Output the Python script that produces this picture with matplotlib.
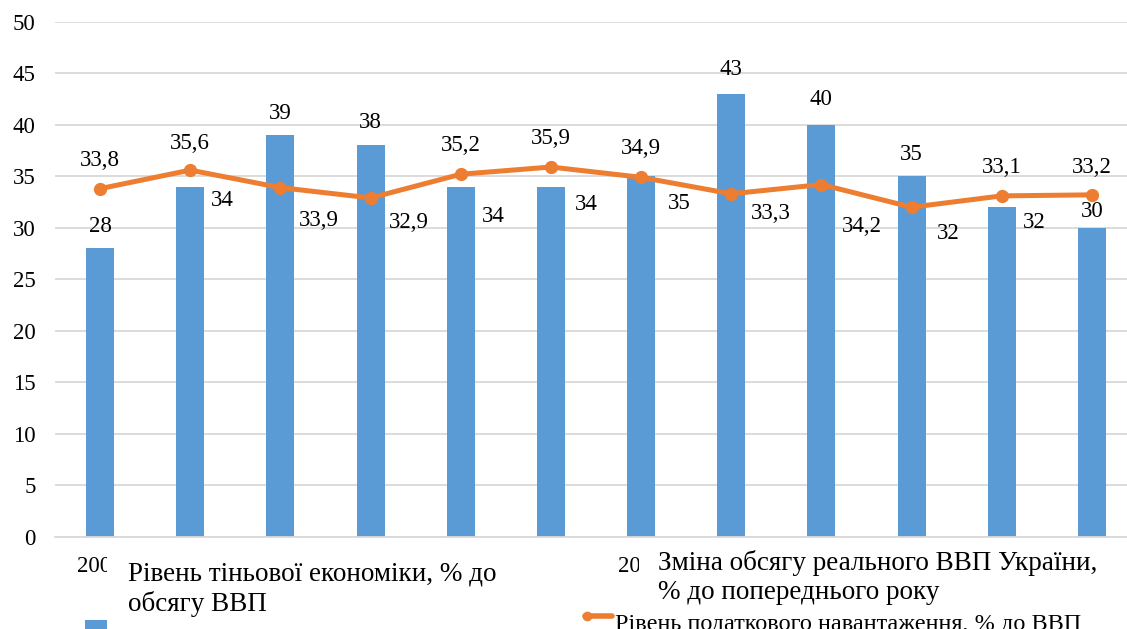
import matplotlib.pyplot as plt
from matplotlib.patches import Rectangle
from matplotlib.lines import Line2D

plt.rcParams['font.family'] = ['Liberation Serif', 'DejaVu Serif']

# Data
years = ['2007', '2008', '2009', '2010', '2011', '2012',
         '2013', '2014', '2015', '2016', '2017', '2018']
shadow = [28, 34, 39, 38, 34, 34, 35, 43, 40, 35, 32, 30]
tax_burden = [33.8, 35.6, 33.9, 32.9, 35.2, 35.9, 34.9, 33.3, 34.2, 32, 33.1, 33.2]
shown_years = [0, 6]

bar_name = ['Рівень тіньової економіки, % до', 'обсягу ВВП']
gdp_name = ['Зміна обсягу реального ВВП України,', '% до попереднього року']
line_name = 'Рівень податкового навантаження, % до ВВП'

# label offsets in pixels (dx, dy)
bar_off = [(0, 22), (32, -14), (0, 22), (0, 23), (33, -30), (35, -18),
           (38, -27), (0, 24), (0, 25), (0, 22), (33, -15), (0, 16)]
line_off = [(0, 28), (0, 27), (38, -33), (38, -25), (0, 29), (0, 29),
            (0, 29), (40, -20), (40, -42), (37, -26), (0, 28), (0, 27)]

BLUE = '#5b9bd5'
ORANGE = '#ed7d31'
W, H = 1127, 629
FS = 16.5
LFS = 19.5

def fx(px):
    return px / W

def fy(py):
    return 1 - py / H

fig = plt.figure(figsize=(W / 100, H / 100), dpi=100)
ax = fig.add_axes([fx(55), fy(537), 1082 / W, 515.3 / H])

x = list(range(len(years)))
ax.bar(x, shadow, width=0.31, color=BLUE, zorder=2)
ax.plot(x, tax_burden, color=ORANGE, lw=3.6, marker='o', markersize=8.5, zorder=3)

for i, v in enumerate(shadow):
    ax.annotate(str(v), (i, v), xytext=bar_off[i], textcoords='offset pixels',
                ha='center', va='center', fontsize=FS, zorder=4)
for i, v in enumerate(tax_burden):
    ax.annotate(str(v).replace('.', ','), (i, v), xytext=line_off[i],
                textcoords='offset pixels', ha='center', va='center', fontsize=FS, zorder=4)

ax.set_xlim(-0.5, len(years) - 0.5)
ax.set_ylim(0, 50)
ax.set_yticks(range(0, 51, 5))
ax.set_xticks(shown_years)
ax.set_xticklabels([years[i] for i in shown_years])
ax.tick_params(axis='both', length=0, labelsize=FS)
ax.tick_params(axis='x', pad=14)
ax.tick_params(axis='y', pad=14)
ax.grid(axis='y', color='#d9d9d9', lw=1.3, zorder=0)
for s in ['top', 'right', 'left']:
    ax.spines[s].set_visible(False)
ax.spines['bottom'].set_color('#d9d9d9')
ax.spines['bottom'].set_linewidth(1.3)

# overlapping legend boxes (as in the source export)
fig.add_artist(Rectangle((fx(107), fy(629)), fx(575) - fx(107), fy(552) - fy(629),
                         transform=fig.transFigure, facecolor='white', edgecolor='none', zorder=5))
fig.add_artist(Rectangle((fx(639), fy(606)), fx(1127) - fx(639), fy(548) - fy(606),
                         transform=fig.transFigure, facecolor='white', edgecolor='none', zorder=5))

fig.text(fx(128), fy(581), bar_name[0], fontsize=LFS, va='baseline', ha='left', zorder=6)
fig.text(fx(128), fy(611), bar_name[1], fontsize=LFS, va='baseline', ha='left', zorder=6)
fig.text(fx(658), fy(570), gdp_name[0], fontsize=LFS, va='baseline', ha='left', zorder=6)
fig.text(fx(658), fy(599), gdp_name[1], fontsize=LFS, va='baseline', ha='left', zorder=6)

fig.add_artist(Rectangle((fx(85), fy(632)), fx(107) - fx(85), fy(620) - fy(632),
                         transform=fig.transFigure, facecolor=BLUE, edgecolor='none', zorder=6))
fig.add_artist(Line2D([fx(585), fx(612)], [fy(616), fy(616)], transform=fig.transFigure,
                      color=ORANGE, lw=4, solid_capstyle='round', zorder=6))
fig.add_artist(Line2D([fx(587)], [fy(616)], transform=fig.transFigure, color=ORANGE,
                      marker='o', markersize=6, zorder=6))
fig.text(fx(615), fy(630), line_name, fontsize=17.5, va='baseline', ha='left', zorder=6)

fig.savefig('out.png', dpi=100)
